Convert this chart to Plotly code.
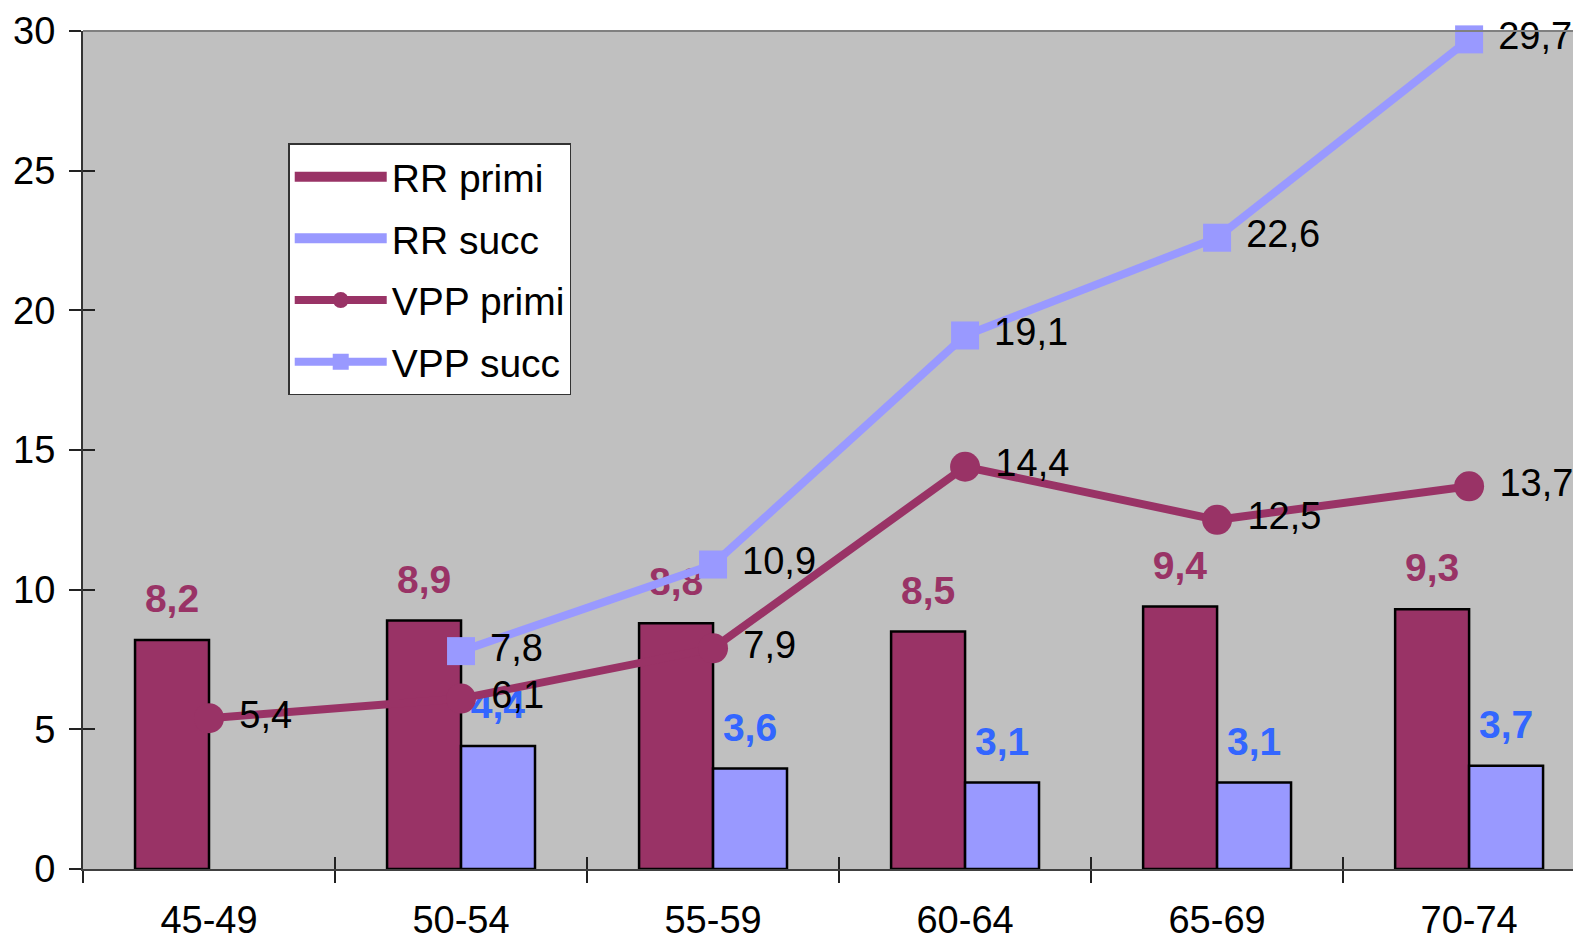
import plotly.graph_objects as go

categories = ["45-49", "50-54", "55-59", "60-64", "65-69", "70-74"]
rr_primi = [8.2, 8.9, 8.8, 8.5, 9.4, 9.3]
rr_succ = [None, 4.4, 3.6, 3.1, 3.1, 3.7]
vpp_primi = [5.4, 6.1, 7.9, 14.4, 12.5, 13.7]
vpp_succ = [None, 7.8, 10.9, 19.1, 22.6, 29.7]
y_ticks = [0, 5, 10, 15, 20, 25, 30]

MAROON = "#993366"
LILAC = "#9999FF"
BLUE_TXT = "#3366FF"
FONT = "Liberation Sans, Arial, sans-serif"
LABEL_LIFT = 0.6  # invisible spacer height (axis units) lifting bar labels
NB = "\u00a0"


def fmt(v):
    return "" if v is None else f"{v:.1f}".replace(".", ",")


fig = go.Figure()

# bars
fig.add_trace(go.Bar(
    x=categories, y=rr_primi, name="RR primi", offsetgroup="p",
    marker=dict(color=MAROON, line=dict(color="black", width=2.5)),
    showlegend=False,
))
fig.add_trace(go.Bar(
    x=categories, y=rr_succ, name="RR succ", offsetgroup="s",
    marker=dict(color=LILAC, line=dict(color="black", width=2.5)),
    showlegend=False,
))
# label carriers (transparent) sitting on top of each bar
fig.add_trace(go.Bar(
    x=categories, base=rr_primi,
    y=[None if v is None else LABEL_LIFT for v in rr_primi],
    offsetgroup="p", showlegend=False, hoverinfo="skip",
    marker=dict(color="rgba(0,0,0,0)", line=dict(width=0)),
    text=[fmt(v) for v in rr_primi], texttemplate="<b>%{text}</b>",
    textposition="outside", cliponaxis=False,
    textfont=dict(color=MAROON, size=39, family=FONT),
))
fig.add_trace(go.Bar(
    x=categories, base=rr_succ,
    y=[None if v is None else LABEL_LIFT for v in rr_succ],
    offsetgroup="s", showlegend=False, hoverinfo="skip",
    marker=dict(color="rgba(0,0,0,0)", line=dict(width=0)),
    text=[fmt(v) for v in rr_succ], texttemplate="<b>%{text}</b>",
    textposition="outside", cliponaxis=False,
    textfont=dict(color=BLUE_TXT, size=39, family=FONT),
))

# lines
fig.add_trace(go.Scatter(
    x=categories, y=vpp_primi, name="VPP primi", mode="lines+markers+text",
    line=dict(color=MAROON, width=8),
    marker=dict(symbol="circle", size=30, color=MAROON),
    text=[NB + fmt(v) for v in vpp_primi], textposition="middle right",
    textfont=dict(color="black", size=38, family=FONT),
    legendgroup="c", legendrank=3, cliponaxis=False,
))
fig.add_trace(go.Scatter(
    x=categories, y=vpp_succ, name="VPP succ", mode="lines+markers+text",
    line=dict(color=LILAC, width=8),
    marker=dict(symbol="square", size=28, color=LILAC),
    text=[NB + fmt(v) if v is not None else "" for v in vpp_succ],
    textposition="middle right",
    textfont=dict(color="black", size=38, family=FONT),
    legendgroup="d", legendrank=4, cliponaxis=False, connectgaps=False,
))

# legend swatches for the bar series (wide rectangles like the original)
fig.add_trace(go.Scatter(x=[None], y=[None], mode="lines", name="RR primi",
                         line=dict(color=MAROON, width=20),
                         legendgroup="a", legendrank=1, hoverinfo="skip"))
fig.add_trace(go.Scatter(x=[None], y=[None], mode="lines", name="RR succ",
                         line=dict(color=LILAC, width=20),
                         legendgroup="b", legendrank=2, hoverinfo="skip"))

# dummy trace to instantiate overlay axes (inner tick halves)
fig.add_trace(go.Scatter(x=[None], y=[None], xaxis="x2", yaxis="y2",
                         showlegend=False, hoverinfo="skip"))

XR = [-0.5, 5.444]

# the page body has an 8px default margin, so the figure is sized to fit
fig.update_layout(
    width=1573, height=932,
    margin=dict(l=75, r=0, t=23, b=71, autoexpand=False),
    paper_bgcolor="white", plot_bgcolor="#C0C0C0",
    barmode="group", bargap=0.413, bargroupgap=0,
    separators=",.",
    font=dict(family=FONT, size=38, color="black"),
    showlegend=True,
    legend=dict(
        x=0.137, y=0.866, xanchor="left", yanchor="top",
        bgcolor="white", bordercolor="#333333", borderwidth=1.5,
        font=dict(size=39, family=FONT, color="black"),
        tracegroupgap=8, itemwidth=92, traceorder="grouped",
    ),
    xaxis=dict(
        type="category", categoryorder="array", categoryarray=categories,
        range=XR, tickson="boundaries", ticks="outside", ticklen=12,
        tickcolor="#222222", tickwidth=1.5, automargin=False,
        showline=True, linecolor="#404040", linewidth=2,
        showgrid=False, zeroline=False,
        tickfont=dict(size=38, family=FONT, color="black"),
        ticklabelstandoff=16,
    ),
    yaxis=dict(
        range=[0, 30], tickvals=y_ticks, ticks="outside", ticklen=12,
        tickcolor="#222222", tickwidth=1.5, automargin=False,
        showline=True, linecolor="#333333", linewidth=2,
        showgrid=False, zeroline=False,
        tickfont=dict(size=38, family=FONT, color="black"),
        ticklabelstandoff=6,
    ),
    xaxis2=dict(
        overlaying="x", side="bottom", type="linear", range=XR,
        tick0=-0.5, dtick=1, ticks="inside", ticklen=12,
        tickcolor="#222222", tickwidth=1.5, automargin=False,
        showticklabels=False, showline=False, showgrid=False, zeroline=False,
    ),
    yaxis2=dict(
        overlaying="y", side="left", range=[0, 30], tickvals=y_ticks,
        ticks="inside", ticklen=12, tickcolor="#222222", tickwidth=1.5,
        automargin=False,
        showticklabels=False, showline=False, showgrid=False, zeroline=False,
    ),
    shapes=[dict(type="line", xref="paper", yref="paper", x0=0, x1=1, y0=1, y1=1,
                 line=dict(color="#808080", width=2))],
)

fig.write_html("out.html")
